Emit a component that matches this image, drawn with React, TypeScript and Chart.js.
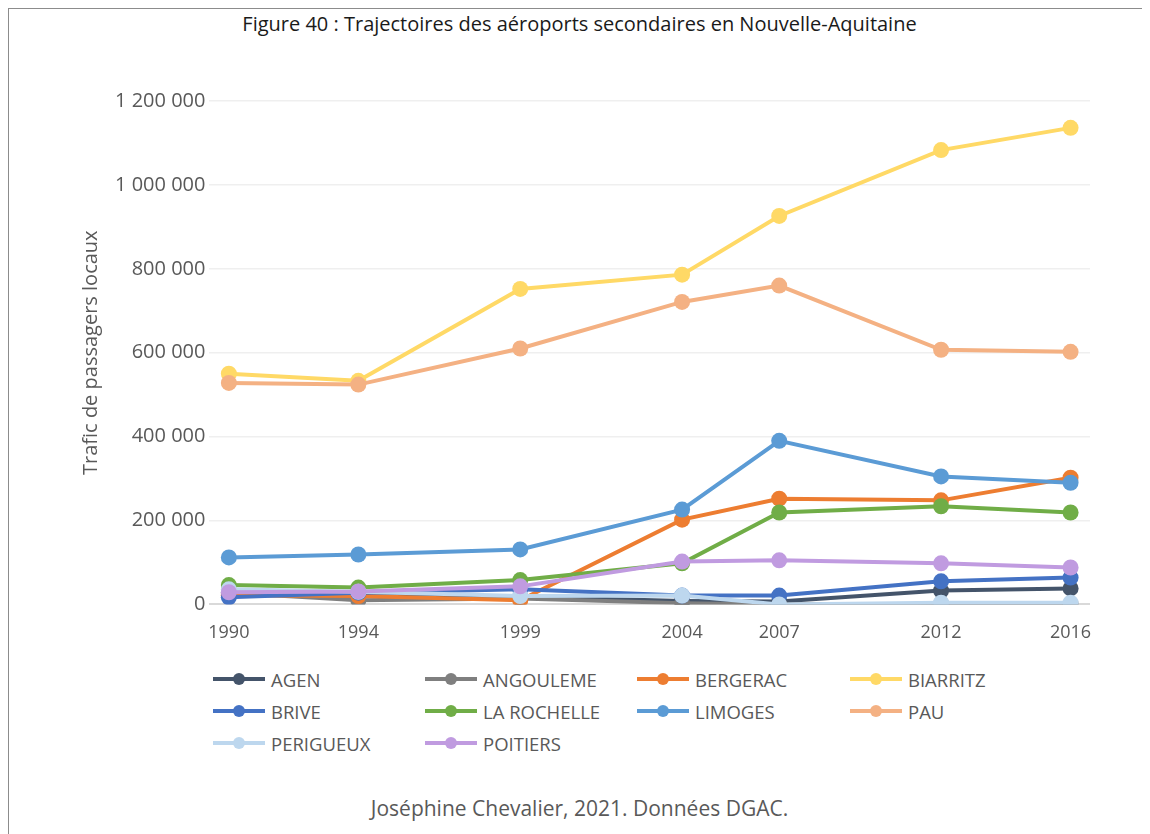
import React, { useEffect, useRef } from "react";
import { Chart, registerables } from "chart.js";

Chart.register(...registerables);

const years = [1990, 1994, 1999, 2004, 2007, 2012, 2016];

const agen = [25000, 20000, 18000, 8000, 7000, 33000, 38000];
const angouleme = [28000, 10000, 14000, 3000, 0, 1000, 1000];
const bergerac = [22000, 20000, 10000, 202000, 252000, 248000, 302000];
const biarritz = [550000, 533000, 752000, 786000, 926000, 1083000, 1136000];
const brive = [17000, 28000, 36000, 21000, 21000, 55000, 64000];
const laRochelle = [46000, 40000, 58000, 98000, 219000, 234000, 219000];
const limoges = [112000, 119000, 131000, 226000, 390000, 305000, 290000];
const pau = [528000, 524000, 610000, 721000, 760000, 607000, 602000];
const perigueux = [36000, 30000, 20000, 21000, 0, 4000, 4000];
const poitiers = [29000, 31000, 43000, 102000, 105000, 98000, 88000];

const seriesNames = [
  "AGEN",
  "ANGOULEME",
  "BERGERAC",
  "BIARRITZ",
  "BRIVE",
  "LA ROCHELLE",
  "LIMOGES",
  "PAU",
  "PERIGUEUX",
  "POITIERS",
];
const seriesValues = [
  agen,
  angouleme,
  bergerac,
  biarritz,
  brive,
  laRochelle,
  limoges,
  pau,
  perigueux,
  poitiers,
];
const seriesColors = [
  "#44546A",
  "#7F7F7F",
  "#ED7D31",
  "#FFD966",
  "#4472C4",
  "#70AD47",
  "#5B9BD5",
  "#F4B183",
  "#BDD7EE",
  "#C09BE0",
];

const yTicks = [0, 200000, 400000, 600000, 800000, 1000000, 1200000];

const title = "Figure 40 : Trajectoires des aéroports secondaires en Nouvelle-Aquitaine";
const yTitle = "Trafic de passagers locaux";
const caption = "Joséphine Chevalier, 2021. Données DGAC.";

const FONT = "'Open Sans', 'DejaVu Sans', sans-serif";
const GREY = "#595959";

function fmt(v: number): string {
  return String(v).replace(/\B(?=(\d{3})+(?!\d))/g, " ");
}

export default function App() {
  const ref = useRef<HTMLCanvasElement>(null);

  useEffect(() => {
    if (!ref.current) return;
    const datasets = seriesNames.map((name, i) => ({
      label: name,
      data: seriesValues[i].map((v, j) => ({ x: years[j], y: v })),
      borderColor: seriesColors[i],
      backgroundColor: seriesColors[i],
      borderWidth: 4,
      pointRadius: 8,
      pointHoverRadius: 8,
      pointBorderWidth: 0,
      tension: 0,
      order: -i,
    }));
    const chart = new Chart(ref.current, {
      type: "line",
      data: { datasets },
      options: {
        animation: false,
        responsive: true,
        maintainAspectRatio: false,
        layout: { padding: { top: 32, bottom: 7, left: 70, right: 60 } },
        plugins: {
          legend: { display: false },
          tooltip: { enabled: false },
          title: { display: false },
        },
        scales: {
          x: {
            type: "linear",
            min: 1989.4,
            max: 2016.6,
            afterBuildTicks: (axis: any) => {
              axis.ticks = years.map((v) => ({ value: v }));
            },
            ticks: {
              autoSkip: false,
              maxRotation: 0,
              padding: 10,
              color: GREY,
              font: { family: FONT, size: 18 },
              callback: (v: any) => String(v),
            },
            grid: { display: false },
            border: { display: false },
          },
          y: {
            min: 0,
            max: 1200000,
            afterBuildTicks: (axis: any) => {
              axis.ticks = yTicks.map((v) => ({ value: v }));
            },
            ticks: {
              padding: 4,
              color: GREY,
              font: { family: FONT, size: 20 },
              callback: (v: any) => fmt(Number(v)),
            },
            grid: {
              drawTicks: false,
              color: (ctx: any) => (ctx.tick && ctx.tick.value === 0 ? "#D9D9D9" : "#EFEFEF"),
              lineWidth: (ctx: any) => (ctx.tick && ctx.tick.value === 0 ? 2 : 1.5),
            },
            border: { display: false },
            title: {
              display: true,
              text: yTitle,
              color: GREY,
              font: { family: FONT, size: 20 },
              padding: { top: 0, bottom: 8 },
            },
          },
        },
      },
    });
    return () => chart.destroy();
  }, []);

  const cols = [204, 416, 628, 841];
  const rows = [670, 702, 734];

  return (
    <div
      style={{
        position: "relative",
        width: 1141,
        height: 825,
        borderLeft: "1px solid #8C8C8C",
        borderTop: "1px solid #8C8C8C",
        background: "#fff",
        overflow: "hidden",
        fontFamily: FONT,
      }}
    >
      <div
        style={{
          position: "absolute",
          top: 1,
          left: 0,
          width: "100%",
          textAlign: "center",
          fontSize: 20,
          lineHeight: "28px",
          color: "#1a1a1a",
        }}
      >
        {title}
      </div>
      <div style={{ position: "absolute", left: 0, top: 60, width: 1141, height: 592 }}>
        <canvas ref={ref} />
      </div>
      {seriesNames.map((name, i) => {
        const c = cols[i % 4];
        const r = rows[Math.floor(i / 4)];
        return (
          <div
            key={name}
            style={{
              position: "absolute",
              left: c,
              top: r - 12,
              height: 24,
              display: "flex",
              alignItems: "center",
              whiteSpace: "nowrap",
            }}
          >
            <div style={{ position: "relative", width: 52, height: 24 }}>
              <div
                style={{
                  position: "absolute",
                  left: 0,
                  top: 10,
                  width: 52,
                  height: 4,
                  background: seriesColors[i],
                }}
              />
              <div
                style={{
                  position: "absolute",
                  left: 20,
                  top: 6,
                  width: 12,
                  height: 12,
                  borderRadius: 6,
                  background: seriesColors[i],
                }}
              />
            </div>
            <span style={{ marginLeft: 6, fontSize: 18.5, color: GREY }}>{name}</span>
          </div>
        );
      })}
      <div
        style={{
          position: "absolute",
          top: 785,
          left: 0,
          width: "100%",
          textAlign: "center",
          fontSize: 21,
          lineHeight: "28px",
          color: GREY,
        }}
      >
        {caption}
      </div>
    </div>
  );
}
